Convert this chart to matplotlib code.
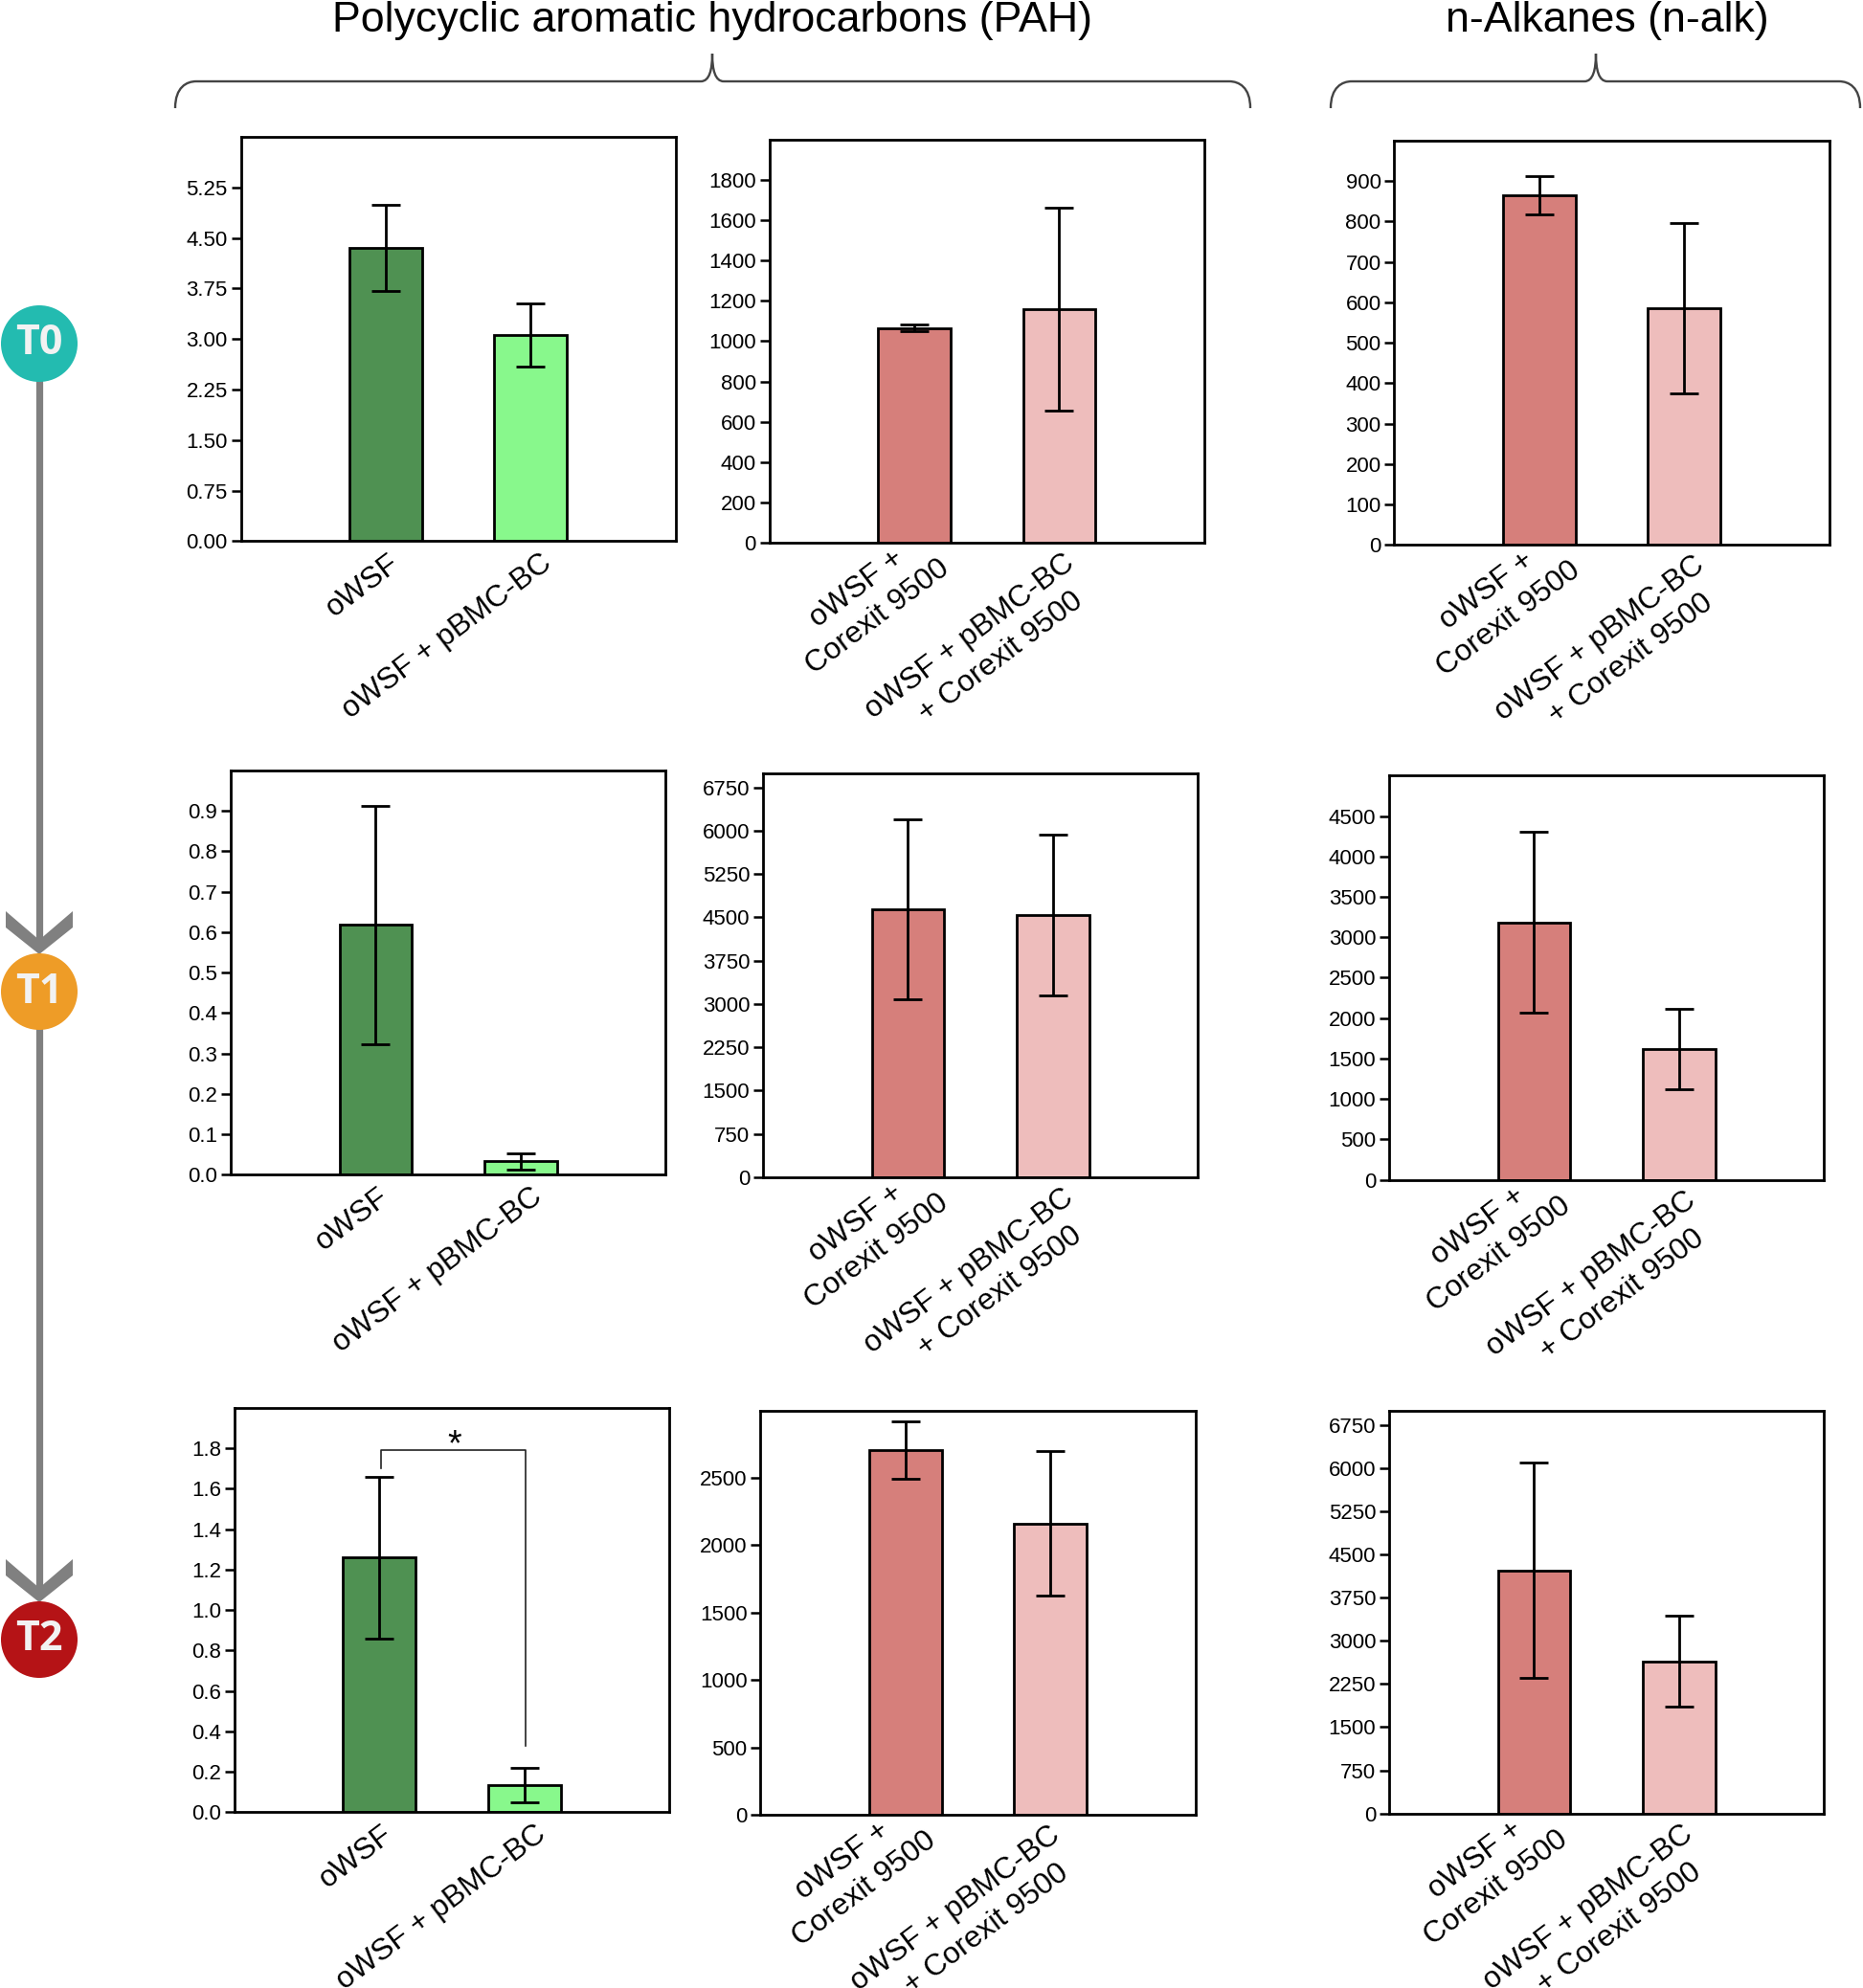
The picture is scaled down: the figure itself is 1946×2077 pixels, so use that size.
import matplotlib
matplotlib.use("Agg")
import matplotlib.pyplot as plt
from matplotlib.patches import Circle, PathPatch, Polygon
from matplotlib.path import Path
from matplotlib.transforms import Affine2D

plt.rcParams['font.family'] = ['Liberation Sans', 'DejaVu Sans']

W, H = 1946, 2077
S = 1.324  # preview px -> real px

# values: [mean bar 1, mean bar 2], [err bar 1, err bar 2]
t0_pah_mean = [4.35, 3.06]
t0_pah_err = [0.64, 0.47]
t0_pahc_mean = [1066, 1160]
t0_pahc_err = [18, 502]
t0_alk_mean = [865, 586]
t0_alk_err = [48, 210]

t1_pah_mean = [0.618, 0.033]
t1_pah_err = [0.295, 0.02]
t1_pahc_mean = [4646, 4536]
t1_pahc_err = [1556, 1390]
t1_alk_mean = [3183, 1615]
t1_alk_err = [1120, 500]

t2_pah_mean = [1.26, 0.132]
t2_pah_err = [0.40, 0.085]
t2_pahc_mean = [2707, 2162]
t2_pahc_err = [211, 535]
t2_alk_mean = [4222, 2639]
t2_alk_err = [1870, 790]

# y ticks
ticks_t0_pah = [0, 0.75, 1.5, 2.25, 3, 3.75, 4.5, 5.25]
labels_t0_pah = ['0.00', '0.75', '1.50', '2.25', '3.00', '3.75', '4.50', '5.25']
ticks_t0_pahc = list(range(0, 2000, 200))
ticks_t0_alk = list(range(0, 1000, 100))
ticks_t1_pah = [0, .1, .2, .3, .4, .5, .6, .7, .8, .9]
labels_t1_pah = ['0.0', '0.1', '0.2', '0.3', '0.4', '0.5', '0.6', '0.7', '0.8', '0.9']
ticks_750 = list(range(0, 7500, 750))
ticks_t1_alk = list(range(0, 5000, 500))
ticks_t2_pah = [0, .2, .4, .6, .8, 1, 1.2, 1.4, 1.6, 1.8]
labels_t2_pah = ['0.0', '0.2', '0.4', '0.6', '0.8', '1.0', '1.2', '1.4', '1.6', '1.8']
ticks_t2_pahc = list(range(0, 3000, 500))

labels_plain = ['oWSF', 'oWSF + pBMC-BC']
# leading spaces nudge the second line along the slant, as in the original
labels_corexit = ['oWSF +\nCorexit 9500', 'oWSF + pBMC-BC\n   + Corexit 9500']
colors_green = ['#4F9152', '#88F88C']
colors_red = ['#D67F7B', '#EEBDBC']

# left, right, top, bottom in preview px
boxes = [
    (190, 533, 108, 427), (607, 950, 110, 428.5), (1100, 1443, 111, 430),
    (182, 525, 608, 927), (602, 945, 610, 929), (1096, 1439, 612, 931),
    (185, 528, 1111, 1430), (600, 943, 1113, 1432), (1096, 1439, 1113, 1431),
]
means = [t0_pah_mean, t0_pahc_mean, t0_alk_mean,
         t1_pah_mean, t1_pahc_mean, t1_alk_mean,
         t2_pah_mean, t2_pahc_mean, t2_alk_mean]
errs = [t0_pah_err, t0_pahc_err, t0_alk_err,
        t1_pah_err, t1_pahc_err, t1_alk_err,
        t2_pah_err, t2_pahc_err, t2_alk_err]
tick_sets = [ticks_t0_pah, ticks_t0_pahc, ticks_t0_alk,
             ticks_t1_pah, ticks_750, ticks_t1_alk,
             ticks_t2_pah, ticks_t2_pahc, ticks_750]
tick_labels = [labels_t0_pah, None, None,
               labels_t1_pah, None, None,
               labels_t2_pah, None, None]
ymaxes = [6, 2000, 1000, 1, 7000, 5000, 2, 3000, 7000]

# label shifts in real px (right, up)
shift_plain = [(2, 0), (10, 0)]
shift_corexit = [(2, 26), (3, 2)]
panel_dx = [0, 0, 6, 0, 6, 2, 0, -5, -1]

fig = plt.figure(figsize=(W / 100, H / 100), dpi=100, facecolor='white')
axes = []
for i, box in enumerate(boxes):
    l, r, t, b = [v * S for v in box]
    ax = fig.add_axes([l / W, 1 - b / H, (r - l) / W, (b - t) / H])
    is_pah_plain = i % 3 == 0
    ax.bar([1, 2], means[i], width=0.5,
           color=colors_green if is_pah_plain else colors_red,
           edgecolor='black', linewidth=2.0, zorder=2)
    ax.errorbar([1, 2], means[i], yerr=errs[i], fmt='none', ecolor='black',
                elinewidth=2.0, capsize=10.8, capthick=2.0, zorder=3)
    ax.set_xlim(0, 3)
    ax.set_ylim(0, ymaxes[i])
    ax.set_yticks(tick_sets[i])
    if tick_labels[i] is not None:
        ax.set_yticklabels(tick_labels[i])
    ax.tick_params(axis='y', length=7.5, width=1.8, labelsize=16, pad=2.5)
    ax.tick_params(axis='x', length=0, pad=6)
    ax.set_xticks([1, 2])
    ax.set_xticklabels(labels_plain if is_pah_plain else labels_corexit,
                       rotation=37, ha='right', va='top',
                       rotation_mode='anchor', multialignment='center',
                       fontsize=22.7, linespacing=1.3)
    shifts = shift_plain if is_pah_plain else shift_corexit
    for lbl, (dx, dy) in zip(ax.get_xticklabels(), shifts):
        lbl.set_transform(lbl.get_transform() + Affine2D().translate(dx + panel_dx[i], dy))
    for s in ax.spines.values():
        s.set_linewidth(2.0)
    axes.append(ax)

# significance bracket on T2 PAH
ax = axes[6]
ax.plot([1.01, 1.01, 2.01, 2.01], [1.7, 1.79, 1.79, 0.33], color='#222222', lw=1.2, zorder=4)
ax.text(1.52, 1.73, '*', ha='center', va='bottom', fontsize=27)

# overlay in real pixel coordinates for timeline, braces, headers
ov = fig.add_axes([0, 0, 1, 1], zorder=10)
ov.set_xlim(0, W)
ov.set_ylim(H, 0)
ov.axis('off')
ov.patch.set_alpha(0)

gray = '#808080'
cx = 41
ov.plot([cx, cx], [359, 990], color=gray, lw=5.2, solid_capstyle='butt', zorder=1)
ov.plot([cx, cx], [1036, 1668], color=gray, lw=5.2, solid_capstyle='butt', zorder=1)
for tip in (997, 1674):
    ov.add_patch(Polygon([(6, tip - 45), (cx, tip - 15), (76, tip - 45),
                          (76, tip - 28), (cx, tip), (6, tip - 28)],
                         closed=True, facecolor=gray, edgecolor='none', zorder=1))

for yc, col, name in [(359, '#23BBB0', 'T0'), (1036, '#EE9C27', 'T1'), (1713, '#B51316', 'T2')]:
    ov.add_patch(Circle((cx, yc), 40, facecolor=col, edgecolor='none', zorder=2))
    ov.text(cx, yc, name, ha='center', va='center', color='#F2F2F2', fontsize=31,
            family=['Open Sans', 'DejaVu Sans'], fontweight='bold', zorder=3)


def brace(x0, xm, x1):
    yb, yh, yt = 113, 85, 56
    verts = [(x0, yb), (x0, yh + 6), (x0 + 12, yh), (x0 + 22, yh),
             (xm - 12, yh), (xm - 3, yh), (xm, yh - 12), (xm, yt),
             (xm, yh - 12), (xm + 3, yh), (xm + 12, yh),
             (x1 - 22, yh), (x1 - 12, yh), (x1, yh + 6), (x1, yb)]
    codes = [Path.MOVETO, Path.CURVE4, Path.CURVE4, Path.CURVE4,
             Path.LINETO, Path.CURVE4, Path.CURVE4, Path.CURVE4,
             Path.CURVE4, Path.CURVE4, Path.CURVE4,
             Path.LINETO, Path.CURVE4, Path.CURVE4, Path.CURVE4]
    ov.add_patch(PathPatch(Path(verts, codes), facecolor='none', edgecolor='#444444', lw=1.7))


brace(183, 744, 1306)
brace(1390, 1667, 1943)

ov.text(744, 33, 'Polycyclic aromatic hydrocarbons (PAH)', ha='center', va='baseline', fontsize=32.2)
ov.text(1679, 33, 'n-Alkanes (n-alk)', ha='center', va='baseline', fontsize=32.2)

fig.savefig('out.png', dpi=100)
